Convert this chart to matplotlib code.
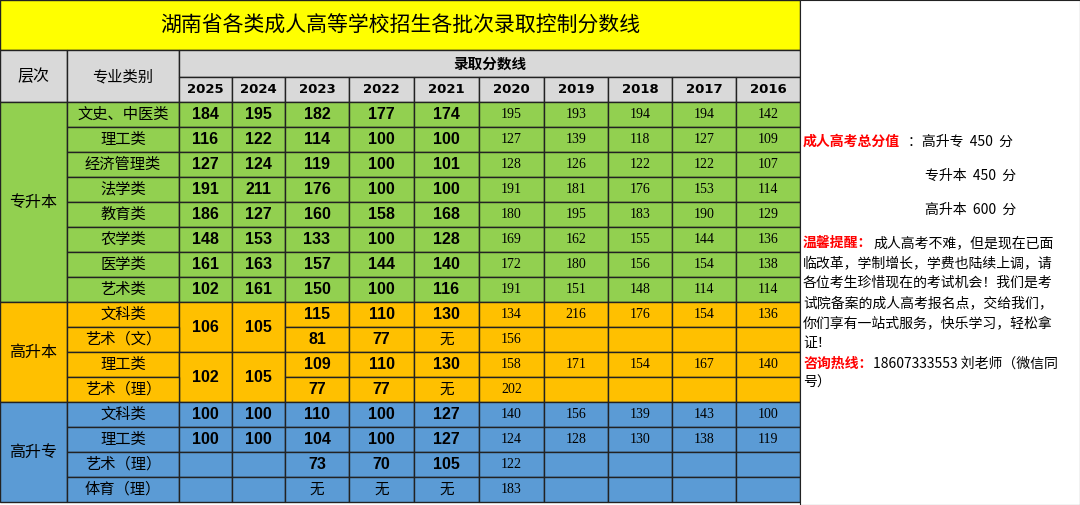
import matplotlib.pyplot as plt
from matplotlib.patches import Rectangle

plt.rcParams['font.family'] = ['Noto Sans CJK SC', 'DejaVu Sans']

title = '湖南省各类成人高等学校招生各批次录取控制分数线'
years = ['2025', '2024', '2023', '2022', '2021', '2020', '2019', '2018', '2017', '2016']
levels = ['专升本', '高升本', '高升专']
majors = [
    ['文史、中医类', '理工类', '经济管理类', '法学类', '教育类', '农学类', '医学类', '艺术类'],
    ['文科类', '艺术（文）', '理工类', '艺术（理）'],
    ['文科类', '理工类', '艺术（理）', '体育（理）'],
]
# per row: 2025 ... 2016 (None = empty, 'M' = merged with row above)
scores = [
    [[184, 195, 182, 177, 174, 195, 193, 194, 194, 142],
     [116, 122, 114, 100, 100, 127, 139, 118, 127, 109],
     [127, 124, 119, 100, 101, 128, 126, 122, 122, 107],
     [191, 211, 176, 100, 100, 191, 181, 176, 153, 114],
     [186, 127, 160, 158, 168, 180, 195, 183, 190, 129],
     [148, 153, 133, 100, 128, 169, 162, 155, 144, 136],
     [161, 163, 157, 144, 140, 172, 180, 156, 154, 138],
     [102, 161, 150, 100, 116, 191, 151, 148, 114, 114]],
    [[106, 105, 115, 110, 130, 134, 216, 176, 154, 136],
     ['M', 'M', 81, 77, '无', 156, None, None, None, None],
     [102, 105, 109, 110, 130, 158, 171, 154, 167, 140],
     ['M', 'M', 77, 77, '无', 202, None, None, None, None]],
    [[100, 100, 110, 100, 127, 140, 156, 139, 143, 100],
     [100, 100, 104, 100, 127, 124, 128, 130, 138, 119],
     [None, None, 73, 70, 105, 122, None, None, None, None],
     [None, None, '无', '无', '无', 183, None, None, None, None]],
]
colors = ['#92D050', '#FFC000', '#5B9BD5']

col_x = [0, 67, 179, 232, 285, 349, 414, 479, 544, 608, 672, 736, 800]
row_h = 25
top = 102

fig = plt.figure(figsize=(10.8, 5.05), dpi=100)
ax = fig.add_axes([0, 0, 1, 1])
ax.set_xlim(0, 1080)
ax.set_ylim(505, 0)
ax.axis('off')

def box(x0, y0, x1, y1, fc, lw=1.0):
    ax.add_patch(Rectangle((x0, y0), x1 - x0, y1 - y0, facecolor=fc, edgecolor='#222222', lw=lw))

# title and header
box(0, 0, 800, 50, '#FFFF00')
ax.text(400, 26, title, ha='center', va='center', fontsize=15)
box(0, 50, col_x[1], top, '#D9D9D9')
box(col_x[1], 50, col_x[2], top, '#D9D9D9')
ax.text(33, 77, '层次', ha='center', va='center', fontsize=11.5)
ax.text(123, 77, '专业类别', ha='center', va='center', fontsize=11)
box(col_x[2], 50, 800, 77, '#D9D9D9')
ax.text(490, 64, '录取分数线', ha='center', va='center', fontsize=10.5, fontweight='bold')
for j, yr in enumerate(years):
    box(col_x[j + 2], 77, col_x[j + 3], top, '#D9D9D9')
    ax.text((col_x[j + 2] + col_x[j + 3]) / 2, 89.5, yr, ha='center', va='center',
            fontsize=9.5, fontweight='bold', family='DejaVu Sans')

y = top
for g, lev in enumerate(levels):
    n = len(majors[g])
    fc = colors[g]
    box(0, y, col_x[1], y + n * row_h, fc)
    ax.text(33, y + n * row_h / 2, lev, ha='center', va='center', fontsize=11.5)
    rows = scores[g]
    for i in range(n):
        y0 = y + i * row_h
        box(col_x[1], y0, col_x[2], y0 + row_h, fc)
        ax.text(123, y0 + row_h / 2, majors[g][i], ha='center', va='center', fontsize=11)
        for j, v in enumerate(rows[i]):
            if v == 'M':
                continue
            span = 2 if (i + 1 < n and rows[i + 1][j] == 'M') else 1
            x0, x1 = col_x[j + 2], col_x[j + 3]
            box(x0, y0, x1, y0 + span * row_h, fc)
            if v is None:
                continue
            cy = y0 + span * row_h / 2
            if v == '无':
                ax.text((x0 + x1) / 2, cy, v, ha='center', va='center', fontsize=10.5)
            elif j < 5:
                ax.text((x0 + x1) / 2, cy, str(v), ha='center', va='center', fontsize=11.5,
                        fontweight='bold', family='Liberation Sans')
            else:
                ax.text((x0 + x1) / 2, cy, str(v), ha='center', va='center', fontsize=10,
                        family='Liberation Serif')
    y += n * row_h

# right notes
box(800, 0, 1080, 505, 'white', lw=0.8)
ax.text(803, 142, '成人高考总分值', color='red', fontsize=10, fontweight='bold', va='center')
ax.text(908, 142, '：高升专  450  分', fontsize=10, va='center')
ax.text(925, 176, '专升本  450  分', fontsize=10, va='center')
ax.text(925, 210, '高升本  600  分', fontsize=10, va='center')
ax.text(803, 243, '温馨提醒：', color='red', fontsize=10, fontweight='bold', va='center')
ax.text(873, 243, '成人高考不难，但是现在已面', fontsize=10, va='center')
note = ['临改革，学制增长，学费也陆续上调，请', '各位考生珍惜现在的考试机会！我们是考',
        '试院备案的成人高考报名点，交给我们，', '你们享有一站式服务，快乐学习，轻松拿', '证！']
for k, line in enumerate(note):
    ax.text(803, 263 + k * 20, line, fontsize=10, va='center')
ax.text(803, 364, '咨询热线：', color='red', fontsize=10, fontweight='bold', va='center')
ax.text(873, 364, '18607333553 刘老师（微信同', fontsize=10, va='center')
ax.text(803, 383, '号）', fontsize=10, va='center')

fig.savefig('out.png', dpi=100)
